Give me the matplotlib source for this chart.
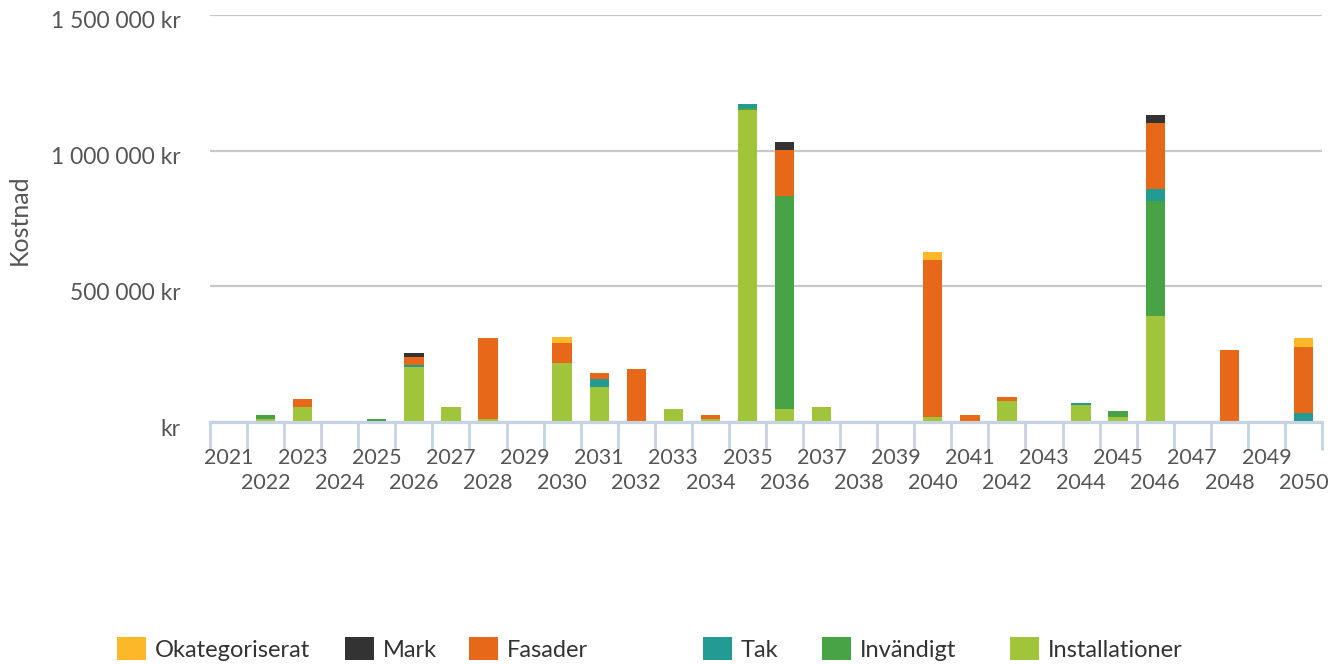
import matplotlib
matplotlib.use("Agg")
import matplotlib.pyplot as plt
from matplotlib.patches import Patch
from matplotlib.ticker import FuncFormatter, FixedLocator, FixedFormatter
from matplotlib.transforms import ScaledTranslation
import numpy as np

plt.rcParams['font.family'] = ['Lato', 'DejaVu Sans']

years = list(range(2021, 2051))

# values in kr, per year (2021..2050)
installationer = [0, 11000, 55000, 0, 0, 203000, 55000, 11000, 0, 218000,
                  130000, 0, 48000, 11000, 1151000, 48000, 55000, 0, 0, 18000,
                  0, 78000, 0, 63000, 18000, 390000, 0, 0, 0, 0]
invandigt = [0, 15000, 0, 0, 11000, 0, 0, 0, 0, 0,
             0, 0, 0, 0, 7000, 785000, 0, 0, 0, 0,
             0, 0, 0, 0, 22000, 423000, 0, 0, 0, 0]
tak = [0, 0, 0, 0, 0, 7000, 0, 0, 5000, 0,
       30000, 4000, 0, 0, 15000, 0, 0, 5000, 0, 0,
       4000, 0, 0, 7000, 0, 45000, 5000, 0, 0, 33000]
fasader = [0, 0, 30000, 0, 0, 30000, 0, 297000, 0, 74000,
           22000, 193000, 0, 15000, 0, 170000, 0, 0, 0, 580000,
           22000, 15000, 0, 0, 0, 245000, 0, 264000, 0, 245000]
mark = [0, 0, 0, 0, 0, 15000, 0, 0, 0, 0,
        0, 0, 0, 0, 0, 30000, 0, 0, 0, 0,
        0, 0, 0, 0, 0, 30000, 0, 0, 0, 0]
okategoriserat = [0, 0, 0, 0, 0, 0, 0, 0, 0, 22000,
                  0, 0, 0, 0, 0, 0, 0, 0, 0, 30000,
                  0, 0, 0, 0, 0, 0, 0, 0, 0, 30000]

series = [
    ("Installationer", installationer, "#A1C53A"),
    ("Invändigt", invandigt, "#48A346"),
    ("Tak", tak, "#239B93"),
    ("Fasader", fasader, "#E8681A"),
    ("Mark", mark, "#333333"),
    ("Okategoriserat", okategoriserat, "#FDB82A"),
]

TXT = '#555555'
AXC = '#c5d3e3'

fig = plt.figure(figsize=(13.39, 6.64), dpi=100)
ax = fig.add_axes([210/1339, (664-422)/664, (1322-210)/1339, (422-15)/664])

x = np.arange(len(years))
bottom = np.zeros(len(years))
for name, vals, col in series:
    v = np.array(vals, dtype=float)
    ax.bar(x, v, bottom=bottom, width=0.52, color=col, zorder=3, linewidth=0)
    bottom += v

ax.set_xlim(-0.5, len(years) - 0.5)
ax.set_ylim(0, 1500000)

ax.set_yticks([0, 500000, 1000000, 1500000])
def fmt(v, pos):
    if v == 0:
        return "kr"
    return f"{int(v):,}".replace(",", " ") + " kr"
ax.yaxis.set_major_formatter(FuncFormatter(fmt))
ax.tick_params(axis='y', length=0, pad=21, labelsize=16.5, labelcolor=TXT)
off = ScaledTranslation(0, -5/100, fig.dpi_scale_trans)
for lab in ax.get_yticklabels():
    lab.set_transform(lab.get_transform() + off)
ax.grid(axis='y', color='#c8c8c8', linewidth=1.6, zorder=0)
ax.set_ylabel("Kostnad", fontsize=18, color=TXT)
ax.yaxis.set_label_coords(-(210-31)/1112, (422-220)/407)

# x labels in two staggered rows
ax.xaxis.set_major_locator(FixedLocator(x[0::2]))
ax.xaxis.set_major_formatter(FixedFormatter([str(y) for y in years[0::2]]))
ax.xaxis.set_minor_locator(FixedLocator(x[1::2]))
ax.xaxis.set_minor_formatter(FixedFormatter([str(y) for y in years[1::2]]))
ax.tick_params(axis='x', which='major', length=0, pad=19, labelsize=15.5, labelcolor=TXT)
ax.tick_params(axis='x', which='minor', length=0, pad=36.5, labelsize=15.5, labelcolor=TXT)

# boundary tick marks
sec = ax.secondary_xaxis('bottom')
sec.set_xticks(np.arange(-0.5, len(years)))
sec.tick_params(axis='x', length=20, width=2, color=AXC, labelbottom=False)
sec.spines['bottom'].set_color(AXC)
sec.spines['bottom'].set_linewidth(2.2)

for s in ['top', 'right', 'left']:
    ax.spines[s].set_visible(False)
ax.spines['bottom'].set_color(AXC)
ax.spines['bottom'].set_linewidth(2.2)
ax.spines['bottom'].set_zorder(4)

# legend, one entry per item placed along the bottom
leg_x = [117, 345, 469, 703, 822, 1010]
for (n, v, c), lx in zip(reversed(series), leg_x):
    h = Patch(facecolor=c, edgecolor='none', label=n)
    fig.legend(handles=[h], loc='center left', bbox_to_anchor=(lx/1339, 1 - 649/664),
               frameon=False, fontsize=17, handlelength=1.23, handleheight=1.06,
               handletextpad=0.38, borderpad=0, borderaxespad=0, labelcolor='#333333')

fig.savefig("out.png", dpi=100)
